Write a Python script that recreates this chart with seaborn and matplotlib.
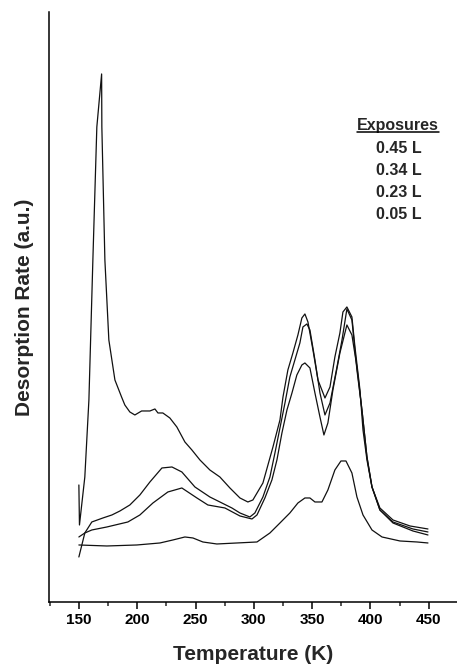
import matplotlib
matplotlib.use("Agg")
import matplotlib.pyplot as plt
from matplotlib.lines import Line2D
from matplotlib.ticker import MultipleLocator
import pandas as pd
import seaborn as sns

## TPD data (temperature in K, rate in a.u.)
temp_045 = [150, 150.5, 155.1, 158.6, 162.0, 165.4, 169.5, 169.7, 172.3, 175.7, 180.9, 186.6,
            189.4, 193.7, 198.0, 203.8, 210.9, 215.2, 217.8, 222.0, 228.0, 234.0, 240.9, 246.9,
            253.8, 262.3, 270.9, 279.5, 288.1, 294.9, 299.2, 307.8, 312.1, 316.4, 322.4, 325.0,
            329.2, 333.5, 337.8, 341.2, 343.8, 346.4, 350.7, 355.0, 361.0, 365.3, 369.5, 373.8,
            376.4, 379.8, 384.1, 386.7, 391.0, 393.6, 397.0, 401.3, 408.1, 419.3, 433.9, 449.3]
rate_045 = [117, 77, 125, 202, 342, 475, 528, 475, 342, 262, 222, 205,
            197, 190, 187, 191, 191, 193, 189, 189, 184, 175, 160, 152,
            142, 132, 125, 114, 104, 100, 102, 119, 137, 155, 182, 205,
            232, 249, 267, 284, 288, 280, 252, 222, 204, 215, 245, 269,
            290, 295, 285, 255, 212, 172, 142, 115, 94, 82, 76, 73]

temp_034 = [150, 155.1, 161.1, 170.6, 178.3, 185.2, 193.7, 202.3, 210.9, 221.2, 229.8, 238.3,
            249.5, 262.3, 270.9, 281.2, 288.1, 296.6, 300.9, 307.8, 313.8, 318.1, 322.4, 326.7,
            330.9, 335.2, 339.5, 342.1, 345.5, 348.1, 352.4, 356.7, 361.0, 365.3, 371.3, 375.6,
            379.8, 384.1, 388.4, 392.7, 397.0, 401.3, 408.1, 419.3, 436.4, 449.3]
rate_034 = [65, 69, 80, 84, 87, 91, 97, 107, 120, 134, 135, 130,
            115, 105, 100, 94, 89, 85, 89, 105, 125, 149, 174, 199,
            225, 242, 259, 275, 278, 272, 242, 209, 187, 199, 235, 262,
            293, 282, 232, 192, 145, 115, 92, 80, 73, 70]

temp_023 = [150, 155.1, 161.1, 174.0, 192.0, 202.3, 213.5, 226.3, 238.3, 251.2, 260.6, 275.2,
            288.1, 298.4, 302.7, 309.5, 315.5, 319.8, 324.1, 328.4, 332.7, 336.9, 341.2, 343.8,
            348.1, 352.4, 356.7, 360.1, 363.5, 367.8, 373.8, 379.8, 384.1, 388.4, 392.7, 397.0,
            401.3, 408.1, 419.3, 436.4, 449.3]
rate_023 = [45, 69, 72, 75, 80, 87, 99, 110, 114, 104, 97, 94,
            86, 83, 87, 104, 122, 142, 169, 192, 209, 227, 237, 239,
            234, 209, 185, 167, 179, 212, 249, 277, 267, 235, 192, 145,
            115, 92, 79, 71, 67]

temp_005 = [150, 174.0, 199.7, 219.5, 230.6, 240.9, 247.8, 256.3, 268.3, 302.7, 313.8, 322.4,
            330.9, 337.8, 343.8, 348.1, 352.4, 358.4, 363.5, 369.5, 374.7, 379.0, 384.1, 388.4,
            393.6, 401.3, 409.9, 425.3, 439.9, 449.3]
rate_005 = [57, 56, 57, 59, 62, 65, 64, 60, 58, 60, 69, 79,
            89, 99, 104, 104, 100, 100, 112, 132, 141, 141, 129, 105,
            87, 72, 65, 61, 60, 59]

exposures = ["0.45 L", "0.34 L", "0.23 L", "0.05 L"]

frames = []
for lab, t, r in zip(exposures, [temp_045, temp_034, temp_023, temp_005],
                     [rate_045, rate_034, rate_023, rate_005]):
    frames.append(pd.DataFrame({"T": t, "rate": r, "exposure": lab}))
df = pd.concat(frames, ignore_index=True)

sns.set_style("ticks")
plt.rcParams["font.family"] = ["Liberation Sans", "DejaVu Sans"]

fig = plt.figure(figsize=(4.57, 6.64), dpi=100)
ax = fig.add_axes([0.107, 0.0934, 0.893, 0.8886])

sns.lineplot(data=df, x="T", y="rate", hue="exposure", units="exposure", estimator=None,
             sort=False, palette=["#111111"] * 4, linewidth=0.9, legend=False, ax=ax)

ax.set_xlim(124.3, 474.2)
ax.set_ylim(0, 590)
ax.set_yticks([])
ax.xaxis.set_major_locator(MultipleLocator(50))
ax.xaxis.set_minor_locator(MultipleLocator(25))
ax.set_xticks([150, 200, 250, 300, 350, 400, 450])
ax.tick_params(axis="x", which="major", direction="out", length=5, width=1.1,
               labelsize=11, pad=3, colors="black")
ax.tick_params(axis="x", which="minor", direction="out", length=3, width=1.1)
for lbl in ax.get_xticklabels():
    lbl.set_fontweight("bold")
sns.despine(ax=ax, top=True, right=True)
for side in ["left", "bottom"]:
    ax.spines[side].set_linewidth(1.1)
    ax.spines[side].set_color("black")

ax.set_xlabel("Temperature (K)", fontsize=15, fontweight="bold", labelpad=13)
ax.set_ylabel("Desorption Rate (a.u.)", fontsize=15, fontweight="bold", labelpad=11)

## legend-like text block
head = ax.text(0.855, 0.807, "Exposures", transform=ax.transAxes, ha="center", va="center",
               fontsize=11.5, fontweight="bold")
for i, lab in enumerate(exposures):
    ax.text(0.857, 0.768 - i * 0.0373, lab, transform=ax.transAxes, ha="center", va="center",
            fontsize=11.5, fontweight="bold")

fig.canvas.draw()
bb = head.get_window_extent()
fig.add_artist(Line2D([bb.x0, bb.x1], [bb.y0 + 1, bb.y0 + 1], transform=None,
                      color="black", linewidth=1.1))

fig.savefig("out.png", dpi=100)
